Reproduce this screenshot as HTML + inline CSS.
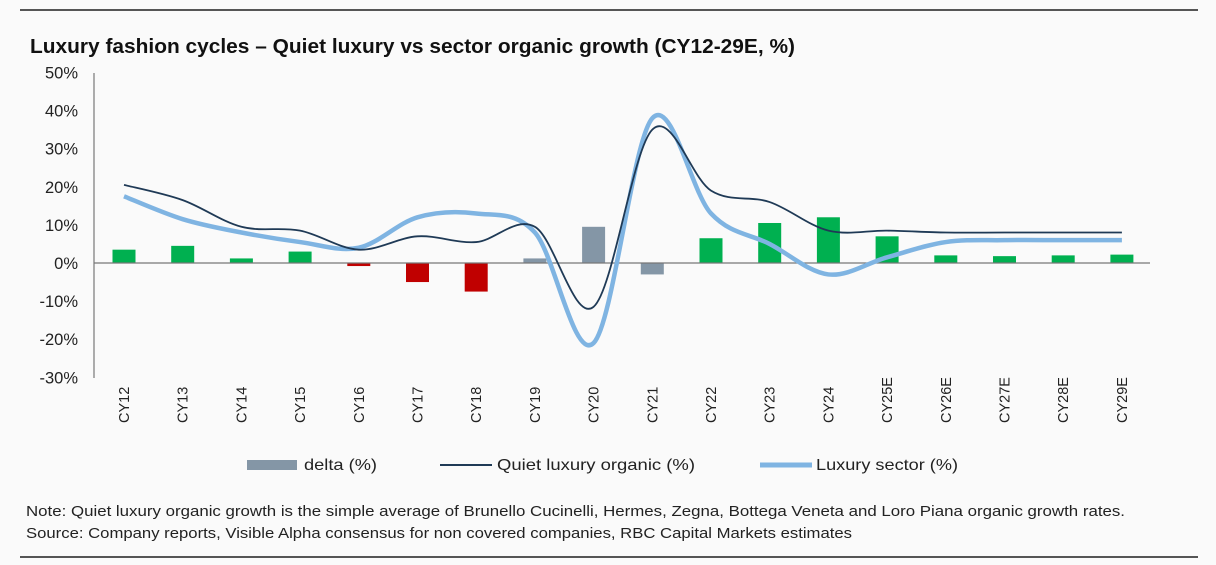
<!DOCTYPE html>
<html><head><meta charset="utf-8"><style>
body{margin:0;background:#fafafa;}
svg{display:block;font-family:"Liberation Sans",sans-serif;}
</style></head><body>
<svg id="c" width="1216" height="565">
<line x1="20" y1="10" x2="1198" y2="10" stroke="#555" stroke-width="2"/>
<line x1="20" y1="557" x2="1198" y2="557" stroke="#555" stroke-width="2"/>
<text x="30" y="53" font-size="20" font-weight="bold" fill="#111" textLength="765" lengthAdjust="spacingAndGlyphs">Luxury fashion cycles – Quiet luxury vs sector organic growth (CY12-29E, %)</text>
<g id="plot"></g>
<g>
<rect x="247" y="460" width="50" height="10" fill="#8496a6"/>
<text x="304" y="470" font-size="16" fill="#222" textLength="73" lengthAdjust="spacingAndGlyphs">delta (%)</text>
<line x1="440" y1="465" x2="492" y2="465" stroke="#1f3a56" stroke-width="2"/>
<text x="497" y="470" font-size="16" fill="#222" textLength="198" lengthAdjust="spacingAndGlyphs">Quiet luxury organic (%)</text>
<line x1="760" y1="465" x2="812" y2="465" stroke="#7fb4e2" stroke-width="5"/>
<text x="816" y="470" font-size="16" fill="#222" textLength="142" lengthAdjust="spacingAndGlyphs">Luxury sector (%)</text>
</g>
<text x="26" y="516" font-size="15" fill="#222" textLength="1099" lengthAdjust="spacingAndGlyphs">Note: Quiet luxury organic growth is the simple average of Brunello Cucinelli, Hermes, Zegna, Bottega Veneta and Loro Piana organic growth rates.</text>
<text x="26" y="538" font-size="15" fill="#222" textLength="826" lengthAdjust="spacingAndGlyphs">Source: Company reports, Visible Alpha consensus for non covered companies, RBC Capital Markets estimates</text>
</svg>
<script>
const categories=["CY12","CY13","CY14","CY15","CY16","CY17","CY18","CY19","CY20","CY21","CY22","CY23","CY24","CY25E","CY26E","CY27E","CY28E","CY29E"];
const deltaValues=[3.5,4.5,1.2,3,-0.8,-5,-7.5,1.2,9.5,-3,6.5,10.5,12,7,2,1.8,2,2.2];
const deltaGrey=[false,false,false,false,false,false,false,true,true,true,false,false,false,false,false,false,false,false];
const quietValues=[20.5,16.5,9.5,8.5,3.5,7,5.5,9.5,-11.5,35,19,16,8.5,8.5,8,8,8,8];
const sectorValues=[17.5,11.5,8,5.5,4,12,13,8,-21,38,13,5,-3,1.5,5.5,6,6,6];
const yTicks=[50,40,30,20,10,0,-10,-20,-30];
const NS="http://www.w3.org/2000/svg";
const g=document.getElementById('plot');
const y=v=>263-v*3.81;
const x=i=>124+i*58.7;
function el(t,a){const e=document.createElementNS(NS,t);for(const k in a)e.setAttribute(k,a[k]);g.appendChild(e);return e;}
const ax=el('line',{x1:94,y1:73,x2:94,y2:378,stroke:'#777','stroke-width':1.2});


yTicks.forEach(t=>{const e=el('text',{x:78,y:y(t)+6,'font-size':16.5,'text-anchor':'end',fill:'#222'});e.textContent=t+'%';

});
categories.forEach((c,i)=>{
const v=deltaValues[i];
const r=el('rect',{x:x(i)-11.5,y:Math.min(y(v),y(0)),width:23,height:Math.abs(y(v)-y(0)),fill:deltaGrey[i]?'#8496a6':(v>=0?'#00b050':'#c00000')});


const t=el('text',{transform:`translate(${x(i)+5},${423}) rotate(-90)`,'font-size':14.5,fill:'#222'});t.textContent=c;


});
const zl=el('line',{x1:94,y1:y(0),x2:1150,y2:y(0),stroke:'#777','stroke-width':1.2});


function path(vals){const p=vals.map((v,i)=>[x(i),y(v)]);let d=`M${p[0][0]},${p[0][1]}`;
for(let i=0;i<p.length-1;i++){const p0=p[i-1]||p[i],p1=p[i],p2=p[i+1],p3=p[i+2]||p2;
d+=`C${p1[0]+(p2[0]-p0[0])/6},${p1[1]+(p2[1]-p0[1])/6} ${p2[0]-(p3[0]-p1[0])/6},${p2[1]-(p3[1]-p1[1])/6} ${p2[0]},${p2[1]}`;}return d;}
const s=el('path',{d:path(sectorValues),fill:'none',stroke:'#7fb4e2','stroke-width':4.5});


const q=el('path',{d:path(quietValues),fill:'none',stroke:'#1f3a56','stroke-width':1.8});


</script>
</body></html>
